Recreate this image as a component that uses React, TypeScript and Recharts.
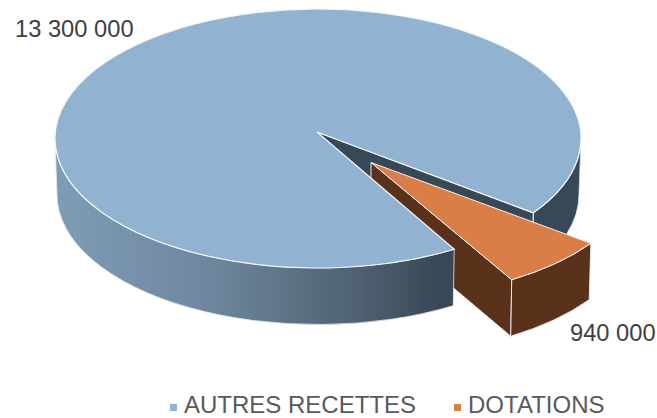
import { PieChart, Pie, Legend } from 'recharts';

const categories = ['AUTRES RECETTES', 'DOTATIONS'];
const values = [13300000, 940000];
const sliceColors = ['#91B2D0', '#D97E47'];

const chartData = categories.map((name, i) => ({ name, value: values[i], fill: sliceColors[i] }));

// flattened disc
const CX = 318;
const CY = 138.5;
const RX = 263;
const RY = 129.5;
const BOTTOM_RX = 261;
const BOTTOM_RY = 130;
const DEPTH = 56;
// the apex sits above the middle of the ellipse because of the perspective
const APEX = { x: 317, y: 132 };
const EXPLODE_RIM = { x: 57.5, y: 30.5 };
const EXPLODE_APEX = { x: 54, y: 30.5 };

const EDGE = '#E4E8EC';
const DARK = '#394856';
const BROWN = '#5A311A';

const LABEL_POS = [
  { x: 15, y: 37 },
  { x: 570, y: 341 },
];

const formatValue = (v: number) => String(v).replace(/\B(?=(\d{3})+$)/g, ' ');

const rad = (a: number) => (a * Math.PI) / 180;
const topPt = (a: number, dx = 0, dy = 0) => [
  CX + dx + RX * Math.cos(rad(a)),
  CY + dy + RY * Math.sin(rad(a)),
];
const botPt = (a: number, dx = 0, dy = 0) => [
  CX + dx + BOTTOM_RX * Math.cos(rad(a)),
  CY + dy + DEPTH + BOTTOM_RY * Math.sin(rad(a)),
];

// outer wall between two screen angles (clockwise)
function wallPath(a0: number, a1: number, dx = 0, dy = 0) {
  const [x0, y0] = topPt(a0, dx, dy);
  const [x1, y1] = topPt(a1, dx, dy);
  const [x2, y2] = botPt(a1, dx, dy);
  const [x3, y3] = botPt(a0, dx, dy);
  return `M${x0},${y0} A${RX},${RY} 0 0 1 ${x1},${y1} L${x2},${y2} A${BOTTOM_RX},${BOTTOM_RY} 0 0 0 ${x3},${y3} Z`;
}

function BackLayer(props: any) {
  const { index, startAngle, endAngle, fill } = props;
  const a0 = -startAngle;
  const a1 = -endAngle;
  if (index === 0) {
    // what shows through the gap: right part of the wall and the cut face
    const [rx, ry] = topPt(a1);
    const [bx, by] = botPt(a1);
    return (
      <g>
        <path d={wallPath(360, a1)} fill={DARK} stroke={EDGE} strokeWidth={0.8} />
        <path
          d={`M${APEX.x},${APEX.y} L${rx},${ry} L${bx},${by} L${APEX.x},${APEX.y + DEPTH} Z`}
          fill={DARK}
          stroke={EDGE}
          strokeWidth={1.2}
        />
      </g>
    );
  }
  const ax = APEX.x + EXPLODE_APEX.x;
  const ay = APEX.y + EXPLODE_APEX.y;
  const [sx, sy] = topPt(a0, EXPLODE_RIM.x, EXPLODE_RIM.y);
  const [ex, ey] = topPt(a1, EXPLODE_RIM.x, EXPLODE_RIM.y);
  const [lx, ly] = botPt(a1, EXPLODE_RIM.x, EXPLODE_RIM.y);
  return (
    <g>
      <path
        d={`M${ax},${ay} L${ex},${ey} L${lx},${ly} L${ax},${ay + DEPTH} Z`}
        fill={BROWN}
        stroke={EDGE}
        strokeWidth={1}
      />
      <path d={wallPath(a0, a1, EXPLODE_RIM.x, EXPLODE_RIM.y)} fill={BROWN} stroke={EDGE} strokeWidth={1} />
      <path
        d={`M${ax},${ay} L${sx},${sy} A${RX},${RY} 0 0 1 ${ex},${ey} Z`}
        fill={fill}
        stroke="#F4F4F4"
        strokeWidth={1}
      />
    </g>
  );
}

function FrontLayer(props: any) {
  const { index, startAngle, endAngle, fill } = props;
  if (index !== 0) return <g />;
  const a0 = -startAngle;
  const a1 = -endAngle;
  const [sx, sy] = topPt(a0);
  const [ex, ey] = topPt(a1);
  return (
    <g>
      <path d={wallPath(a0, 180)} fill="url(#wallGrad)" stroke={EDGE} strokeWidth={0.8} />
      <path
        d={`M${APEX.x},${APEX.y} L${sx},${sy} A${RX},${RY} 0 1 1 ${ex},${ey} Z`}
        fill={fill}
        stroke="#F4F6F8"
        strokeWidth={1.2}
      />
    </g>
  );
}

function renderLabel(props: any) {
  const { index, value } = props;
  return (
    <text
      key={index}
      x={LABEL_POS[index].x}
      y={LABEL_POS[index].y}
      fontFamily="Liberation Sans"
      fontSize={23.7}
      fill="#404040"
      textAnchor="start"
    >
      {formatValue(value)}
    </text>
  );
}

function renderLegend(props: any) {
  // both Pie passes report their items, keep one of each
  const items = (props.payload || []).filter(
    (item: any, i: number, all: any[]) => all.findIndex((o) => o.value === item.value) === i,
  );
  return (
    <div
      style={{
        display: 'flex',
        fontFamily: 'Liberation Sans',
        fontSize: 24,
        color: '#595959',
        lineHeight: '24px',
      }}
    >
      {items.map((item: any, i: number) => (
        <div key={item.value} style={{ display: 'flex', alignItems: 'center', marginRight: i === 0 ? 38 : 0 }}>
          <span style={{ width: 7, height: 7, background: item.color, marginRight: 7, marginTop: 4 }} />
          <span style={{ whiteSpace: 'nowrap' }}>{item.value}</span>
        </div>
      ))}
    </div>
  );
}

export default function App() {
  return (
    <div style={{ position: 'absolute', left: 0, top: 0, width: 657, height: 418, overflow: 'hidden', background: '#fff' }}>
      <PieChart width={657} height={418} margin={{ top: 0, right: 0, bottom: 0, left: 0 }}>
        <defs>
          <linearGradient id="wallGrad" gradientUnits="userSpaceOnUse" x1={55} y1={0} x2={440} y2={0}>
            <stop offset="0" stopColor="#7F9CB6" />
            <stop offset="0.4" stopColor="#6E879E" />
            <stop offset="0.75" stopColor="#526576" />
            <stop offset="1" stopColor={DARK} />
          </linearGradient>
        </defs>
        <Pie
          data={chartData}
          dataKey="value"
          nameKey="name"
          cx={CX}
          cy={CY}
          outerRadius={RX}
          startAngle={-58.8}
          endAngle={-418.8}
          shape={BackLayer}
          stroke="none"
          isAnimationActive={false}
        />
        <Pie
          data={chartData}
          dataKey="value"
          nameKey="name"
          cx={CX}
          cy={CY}
          outerRadius={RX}
          startAngle={-58.8}
          endAngle={-418.8}
          shape={FrontLayer}
          stroke="none"
          legendType="none"
          label={renderLabel}
          labelLine={false}
          isAnimationActive={false}
        />
        <Legend
          content={renderLegend}
          wrapperStyle={{ position: 'absolute', left: 170, top: 393, width: 470, height: 24 }}
        />
      </PieChart>
    </div>
  );
}
